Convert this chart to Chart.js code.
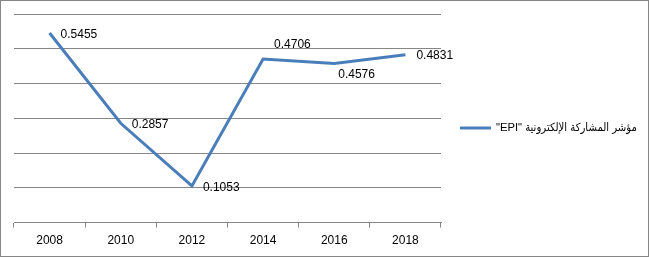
<!DOCTYPE html>
<html>
<head>
<meta charset="utf-8">
<script src="https://cdn.jsdelivr.net/npm/chart.js@4.4.0/dist/chart.umd.min.js"></script>
<style>
  html, body { margin: 0; padding: 0; background: #fff; }
  #wrap { width: 649px; height: 257px; box-sizing: border-box; border: 1px solid #868686; position: relative; }
  #chart { display: block; }
</style>
</head>
<body>
<div id="wrap"><canvas id="chart" width="647" height="255"></canvas></div>
<script>
// data
var years = ['2008', '2010', '2012', '2014', '2016', '2018'];
var epiValues = [0.5455, 0.2857, 0.1053, 0.4706, 0.4576, 0.4831];
var seriesName = 'مؤشر المشاركة الإلكترونية "EPI"';

// where each value label sits relative to its point
var labelSide = ['right', 'right', 'right', 'above', 'below', 'right'];

var lineColor = '#4A7EBB';
var gridColor = '#868686';
var fontFamily = "'Liberation Sans', 'DejaVu Sans', sans-serif";
var legendFamily = "'Liberation Sans', 'DejaVu Sans Condensed', 'DejaVu Sans', sans-serif";

var valueLabels = {
	id: 'valueLabels',
	afterDatasetsDraw(chart) {
		var ctx = chart.ctx;
		var meta = chart.getDatasetMeta(0);
		ctx.save();
		ctx.font = '12px ' + fontFamily;
		ctx.fillStyle = '#000';
		ctx.textAlign = 'left';
		ctx.textBaseline = 'middle';
		meta.data.forEach(function(pt, i) {
			var dx = 11, dy = 1.5;
			if (labelSide[i] == 'above') { dx = 11; dy = -14; }
			if (labelSide[i] == 'below') { dx = 4; dy = 11; }
			ctx.fillText(String(epiValues[i]), pt.x + dx, pt.y + dy);
		});
		ctx.restore();
	}
};

var sideLegend = {
	id: 'sideLegend',
	afterDraw(chart) {
		var ctx = chart.ctx;
		var y = 127;
		var x = chart.chartArea.right + 19;
		ctx.save();
		ctx.strokeStyle = lineColor;
		ctx.lineWidth = 3;
		ctx.beginPath();
		ctx.moveTo(x, y);
		ctx.lineTo(x + 31, y);
		ctx.stroke();
		// shrink the text so it fits the room the legend has
		var size = 12;
		ctx.font = size + 'px ' + legendFamily;
		var w = ctx.measureText(seriesName).width;
		if (w > 141) {
			size = size * 141 / w;
			ctx.font = size + 'px ' + legendFamily;
		}
		ctx.fillStyle = '#000';
		ctx.direction = 'rtl';
		ctx.textAlign = 'left';
		ctx.textBaseline = 'middle';
		ctx.fillText(seriesName, x + 36, y);
		ctx.restore();
	}
};

var ctx = document.getElementById('chart');
var myChart = new Chart(ctx, {
	type: 'line',
	data: {
		labels: years,
		datasets: [{
			label: seriesName,
			data: epiValues,
			borderColor: lineColor,
			backgroundColor: lineColor,
			borderWidth: 3,
			pointRadius: 0,
			tension: 0,
			fill: false
		}]
	},
	options: {
		responsive: false,
		animation: false,
		layout: { padding: { left: 13, top: 13, right: 207, bottom: 2 } },
		plugins: {
			legend: { display: false },
			tooltip: { enabled: false }
		},
		scales: {
			x: {
				offset: true,
				border: { display: true, color: gridColor, width: 1 },
				grid: { offset: true, drawOnChartArea: false, drawTicks: true, tickLength: 5, color: gridColor },
				ticks: { color: '#000', padding: 6, font: { size: 12, family: fontFamily } }
			},
			y: {
				min: 0,
				max: 0.6,
				border: { display: false },
				grid: { color: gridColor, drawTicks: false, lineWidth: 1 },
				ticks: { display: false, stepSize: 0.1 }
			}
		}
	},
	plugins: [valueLabels, sideLegend]
});
</script>
</body>
</html>
